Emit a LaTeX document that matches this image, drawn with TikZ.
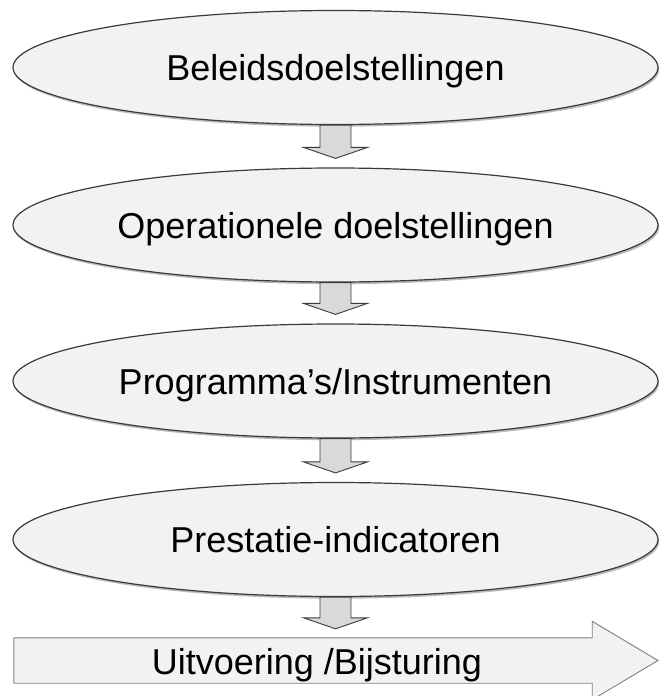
\documentclass[tikz,border=0pt]{standalone}
\usepackage{fontspec}
\setmainfont{Liberation Sans}
\usetikzlibrary{calc,shapes.geometric,shadows}

\definecolor{ovalfill}{HTML}{F2F2F2}
\definecolor{ovalline}{HTML}{3A3A3A}
\definecolor{arrfill}{HTML}{D9D9D9}

\tikzset{
  doel/.style={ellipse, draw=ovalline, line width=1.2pt, fill=ovalfill,
    minimum width=645pt, minimum height=114pt, inner sep=0pt,
    text height=26pt, text depth=0pt,
    font=\fontsize{36}{40}\selectfont,
    drop shadow={shadow xshift=1.2pt, shadow yshift=-2.2pt, opacity=0.45, fill=black!60}},
  flowarr/.style={draw=ovalline, line width=0.9pt, fill=arrfill, line join=miter},
  bigarr/.style={draw=black!50, line width=0.9pt, fill=ovalfill}
}

\newcommand{\flowarrow}[2]{%
  \draw[flowarr] ($(#1.south)+(-15.5,0)$) -- ($(#1.south |- #2.north)+(-15.5,-20)$)
    -- ++(-16.5,0) -- ($(#1.south |- #2.north)+(0,-9)$)
    -- ($(#1.south |- #2.north)+(32,-20)$) -- ++(-16.5,0)
    -- ($(#1.south)+(15.5,0)$) -- cycle;}

\begin{document}
\begin{tikzpicture}[x=1pt,y=-1pt]
  \useasboundingbox (0,0) rectangle (659,696);

  \node[doel] (beleid) at (335.5,67.5) {Beleidsdoelstellingen};
  \node[doel] (oper) at (335.5,225) {Operationele doelstellingen};
  \node[doel] (prog) at (335.5,381) {Programma's/Instrumenten};
  \node[doel] (prest) at (335.5,539.5) {Prestatie-indicatoren};

  \node[minimum width=578pt, minimum height=45pt, inner sep=0pt] (exec) at (303,660.5) {};
  \draw[bigarr] (exec.south west) -- (exec.north west) -- (exec.north east)
    -- ++(0,-16.5) -- (658,660.5) -- ($(exec.south east)+(0,16.5)$)
    -- (exec.south east) -- cycle;
  \node[font=\fontsize{36}{40}\selectfont, text height=26pt, text depth=0pt] (execlbl)
    at (317,661) {Uitvoering /Bijsturing};

  \flowarrow{beleid}{oper}
  \flowarrow{oper}{prog}
  \flowarrow{prog}{prest}
  \flowarrow{prest}{exec}
\end{tikzpicture}
\end{document}
